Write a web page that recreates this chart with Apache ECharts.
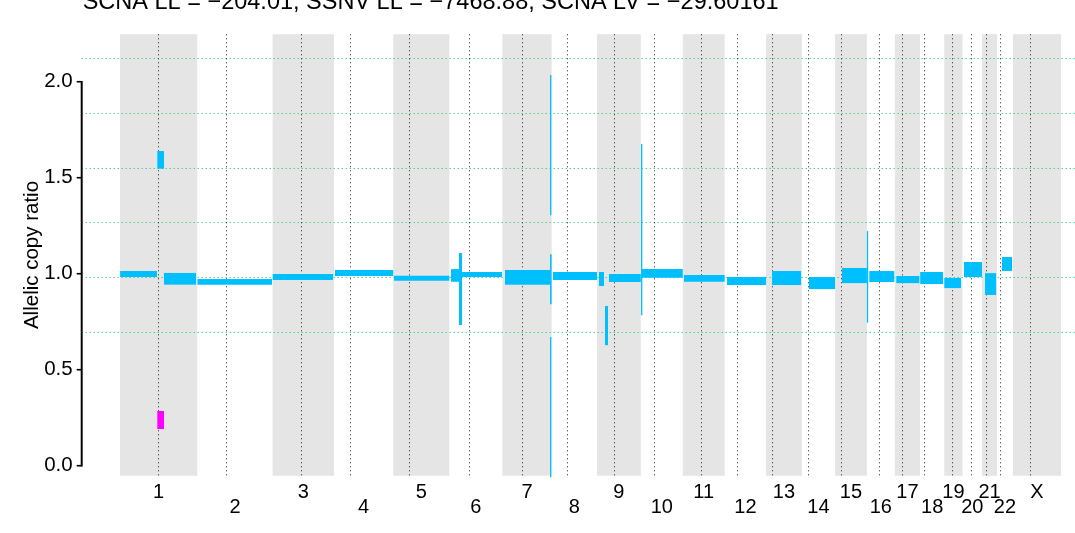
<!DOCTYPE html>
<html><head><meta charset="utf-8">
<script src="https://cdn.jsdelivr.net/npm/echarts@6/dist/echarts.min.js"></script>
<style>html,body{margin:0;padding:0;background:#fff}#c{width:1075px;height:533px}</style>
</head><body><div id="c"></div>
<script>
const titleText = 'SCNA LL = \u2212204.01, SSNV LL = \u22127468.88, SCNA LV = \u221229.60161';
const yAxisTitle = 'Allelic copy ratio';

// chromosomes (Mb)
const chromNames = ['1','2','3','4','5','6','7','8','9','10','11','12','13','14','15','16','17','18','19','20','21','22','X'];
const chromLengths = [249.25,243.20,198.02,191.15,180.92,171.12,159.14,146.36,141.21,135.53,135.01,133.85,115.17,107.35,102.53,90.35,81.20,78.08,59.13,63.03,48.13,51.30,155.27];
const centromeres = [123.6,91.8,90.6,51.6,49.9,62.6,62.5,48.5,55.8,43.6,57.8,40.0,19.0,19.0,19.1,38.3,22.1,12.8,24.1,27.3,11.7,10.7,56.2];

// y ticks and copy-number level lines
const yTicks = [0, 0.5, 1.0, 1.5, 2.0];
const levelLines = [0.699, 0.983, 1.268, 1.553, 1.838, 2.122];

// major allele segments (cyan)
const segChrom = ['1','1','1','2','3','4','5','6','6','6','7','7','7','7','8','9','9','9','10','10','11','12','13','14','15','16','16','17','18','19','20','21','22'];
const segStart = [0.5,120.4,142.0,0.5,0.3,3.2,2.5,5.5,31.3,41.0,8.6,153.9,153.9,153.9,4.3,6.3,25.7,38.6,0.8,3.9,3.9,7.7,19.3,23.1,22.3,0.1,7.9,4.7,0.5,0.3,4.7,9.5,16.2];
const segEnd   = [119.4,142.0,245.2,241.2,194.8,191.0,180.8,31.3,41.0,170.0,153.8,157.5,159.0,157.5,146.3,22.5,35.4,141.2,3.0,135.5,135.0,133.8,112.9,107.3,102.5,2.0,88.5,78.9,74.1,54.1,62.8,45.0,48.5];
const segLow   = [0.983,1.547,0.943,0.943,0.967,0.988,0.964,0.958,0.733,0.983,0.943,1.305,0.841,-0.06,0.967,0.936,0.628,0.957,0.784,0.979,0.958,0.941,0.941,0.920,0.951,0.745,0.957,0.951,0.946,0.925,0.983,0.889,1.014];
const segHigh  = [1.014,1.639,1.004,0.972,0.998,1.019,0.990,1.024,1.108,1.009,1.019,2.035,1.101,0.670,1.009,1.009,0.832,0.998,1.675,1.024,0.993,0.983,1.014,0.983,1.030,1.222,1.014,0.988,1.009,0.978,1.061,1.003,1.087];

// minor allele segments (magenta)
const minorChrom = ['1'];
const minorStart = [120.4];
const minorEnd = [142.0];
const minorLow = [0.191];
const minorHigh = [0.285];

// axis extents
const X_MIN = -123.6, X_MAX = 3081.4;
const Y_MIN = -0.052, Y_MAX = 2.247;

const offsets = [];
let acc = 0;
chromLengths.forEach(l => { offsets.push(acc); acc += l; });
const idx = name => chromNames.indexOf(name);

const FONT = '"Liberation Sans", Arial, Helvetica, sans-serif';
const CYAN = '#00BFFF', MAGENTA = '#FF00FF';

const bandData = chromNames.map((n, i) => [i, offsets[i], offsets[i] + chromLengths[i]]);
const centroData = centromeres.map((c, i) => [offsets[i] + c]);
const labelData = chromNames.map((n, i) => [i, offsets[i] + chromLengths[i] / 2]);
const segData = segChrom.map((c, k) => [offsets[idx(c)] + segStart[k], offsets[idx(c)] + segEnd[k], segLow[k], segHigh[k]]);
const minorData = minorChrom.map((c, k) => [offsets[idx(c)] + minorStart[k], offsets[idx(c)] + minorEnd[k], minorLow[k], minorHigh[k]]);

function segRender(color) {
  return function (params, api) {
    const p0 = api.coord([api.value(0), api.value(3)]);
    const p1 = api.coord([api.value(1), api.value(2)]);
    let w = p1[0] - p0[0];
    if (w < 1.3) w = 1.3;
    return { type: 'rect', shape: { x: p0[0], y: p0[1], width: w, height: p1[1] - p0[1] }, style: { fill: color } };
  };
}

const chart = echarts.init(document.getElementById('c'), null, { renderer: 'canvas' });
chart.setOption({
  animation: false,
  backgroundColor: '#fff',
  grid: { left: 81.7, right: 0, top: 34.3, bottom: 57.3 },
  xAxis: { type: 'value', min: X_MIN, max: X_MAX, show: false },
  yAxis: {
    type: 'value', min: Y_MIN, max: Y_MAX,
    axisLine: { show: false }, splitLine: { show: false }, axisTick: { show: false },
    axisLabel: { customValues: yTicks, formatter: v => v.toFixed(1), margin: 9, fontSize: 20.5, color: '#000', fontFamily: FONT }
  },
  graphic: [
    { type: 'text', x: 82.7, y: 3.0, style: { text: titleText, font: '23.5px ' + FONT, fill: '#000', align: 'left', verticalAlign: 'middle' } },
    { type: 'text', x: 32.5, y: 255, rotation: Math.PI / 2, style: { text: yAxisTitle, font: '20.5px ' + FONT, fill: '#000', align: 'center', verticalAlign: 'middle' } }
  ],
  series: [
    { type: 'custom', z: 1, data: bandData, clip: false,
      renderItem(params, api) {
        const i = api.value(0);
        if (i % 2 === 1) return null;
        const p0 = api.coord([api.value(1), Y_MAX]);
        const p1 = api.coord([api.value(2), Y_MIN]);
        return { type: 'rect', shape: { x: p0[0], y: p0[1], width: p1[0] - p0[0], height: p1[1] - p0[1] }, style: { fill: '#E5E5E5' } };
      } },
    { type: 'custom', z: 2, data: levelLines.map(v => [v]), clip: false,
      renderItem(params, api) {
        const a = api.coord([X_MIN, api.value(0)]);
        const b = api.coord([X_MAX, api.value(0)]);
        const y = Math.round(a[1]) + 0.5;
        return { type: 'line', shape: { x1: a[0], y1: y, x2: b[0], y2: y }, style: { stroke: '#00C865', lineWidth: 1, lineDash: [1, 3] } };
      } },
    { type: 'custom', z: 3, data: centroData, clip: false,
      renderItem(params, api) {
        const a = api.coord([api.value(0), Y_MAX]);
        const b = api.coord([api.value(0), Y_MIN]);
        const x = Math.round(a[0]) + 0.5;
        return { type: 'line', shape: { x1: x, y1: a[1], x2: x, y2: b[1] }, style: { stroke: '#222', lineWidth: 1, lineDash: [1, 3] } };
      } },
    { type: 'custom', z: 4, data: minorData, clip: false, renderItem: segRender(MAGENTA) },
    { type: 'custom', z: 5, data: segData, clip: false, renderItem: segRender(CYAN) },
    { type: 'custom', z: 6, data: [[yTicks[0], yTicks[yTicks.length - 1]]], clip: false,
      renderItem(params, api) {
        const a = api.coord([X_MIN, api.value(0)]);
        const b = api.coord([X_MIN, api.value(1)]);
        return { type: 'line', shape: { x1: a[0], y1: a[1] + 0.75, x2: b[0], y2: b[1] - 0.75 }, style: { stroke: '#000', lineWidth: 2 } };
      } },
    { type: 'custom', z: 6, data: yTicks.map(v => [v]), clip: false,
      renderItem(params, api) {
        const a = api.coord([X_MIN, api.value(0)]);
        return { type: 'line', shape: { x1: a[0] - 5, y1: a[1], x2: a[0], y2: a[1] }, style: { stroke: '#000', lineWidth: 1.6 } };
      } },
    { type: 'custom', z: 6, data: labelData, clip: false,
      renderItem(params, api) {
        const i = api.value(0);
        const p = api.coord([api.value(1), Y_MIN]);
        return { type: 'text', x: p[0], y: p[1] + (i % 2 === 0 ? 17.1 : 31.3),
          style: { text: chromNames[i], font: '20px ' + FONT, fill: '#000', align: 'center', verticalAlign: 'middle' } };
      } }
  ]
});
</script></body></html>
